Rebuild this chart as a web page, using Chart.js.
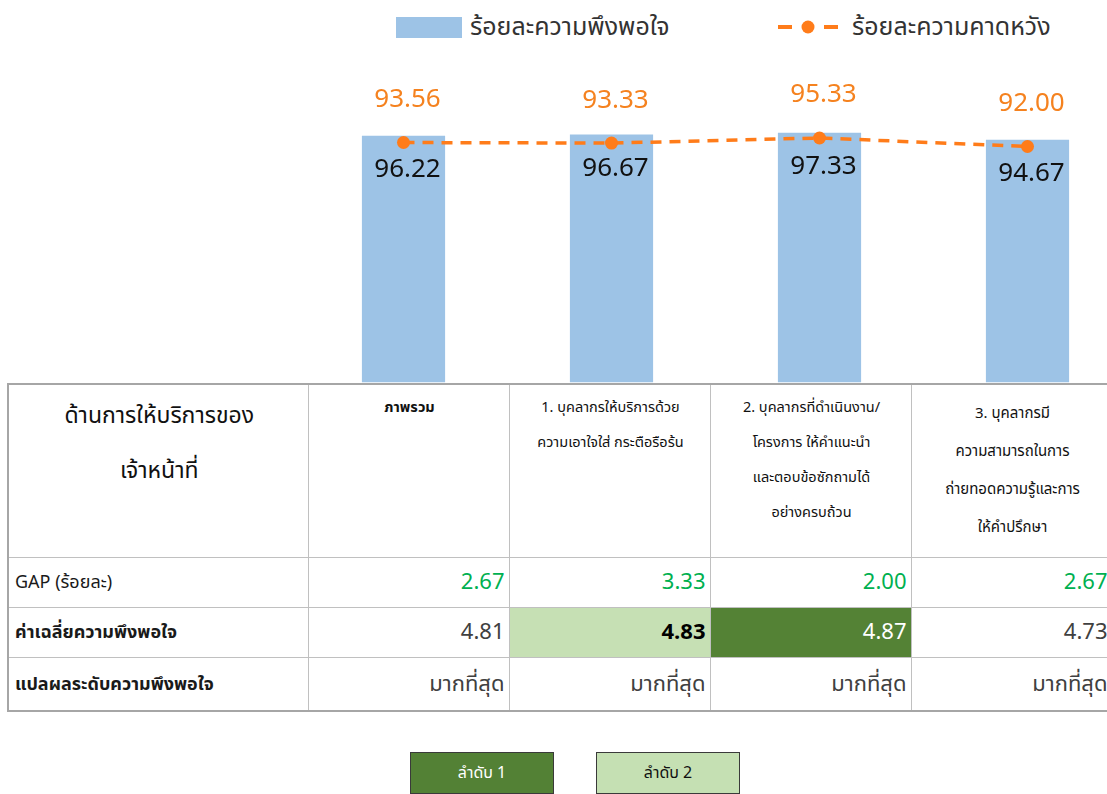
<!DOCTYPE html>
<html><head><meta charset="utf-8">
<script src="https://cdn.jsdelivr.net/npm/chart.js@4.4.1/dist/chart.umd.min.js"></script>
<style>
html,body{margin:0;padding:0;width:1107px;height:794px;overflow:hidden;background:#fff;
 font-family:Tahoma,'Leelawadee UI','Noto Sans Thai','Noto Sans',sans-serif;color:#1a1a1a;}
#chartWrap{position:absolute;left:292.5px;top:0;width:845px;height:389px;z-index:1;}
.lg{position:absolute;top:10px;height:34px;display:flex;align-items:center;font-size:25px;color:#333;white-space:nowrap;}
.lg .box{width:66px;height:21px;background:#9DC3E6;margin-right:8px;}
.lg canvas{margin-right:12px;}
table{position:absolute;left:7px;top:383px;border-collapse:collapse;table-layout:fixed;width:1104px;background:#fff;z-index:2;
 border-top:2px solid #A6A6A6;border-left:2px solid #A6A6A6;border-bottom:2px solid #A6A6A6;}
td{border:1px solid #C0C0C0;padding:0 4px 0 6px;overflow:hidden;white-space:nowrap;}
tr.h td{height:162px;vertical-align:top;text-align:center;font-size:14.5px;line-height:35px;padding-top:6px;color:#111;}
tr.h td.first{font-size:23px;line-height:55px;padding-top:4px;}
tr.r td{height:49px;font-size:22px;text-align:right;color:#404040;}
tr.r.last td{height:52px;}
tr.r td.lab{text-align:left;font-size:18px;color:#1a1a1a;}
tr.gap td{color:#00B050;}
td.b{font-weight:bold;}
.key{position:absolute;top:752px;width:142px;height:40px;border:1px solid #3a3a3a;display:flex;align-items:center;justify-content:center;font-size:16px;}
</style></head>
<body>
<div class="lg" style="left:396px"><div class="box"></div><span>ร้อยละความพึงพอใจ</span></div>
<div class="lg" style="left:776px"><canvas id="lgline" width="64" height="20"></canvas><span>ร้อยละความคาดหวัง</span></div>
<div id="chartWrap"><canvas id="c"></canvas></div>
<table id="tbl"></table>
<div class="key" style="left:410px;background:#538135;color:#fff;">ลำดับ 1</div>
<div class="key" style="left:596px;background:#C5E0B3;color:#111;">ลำดับ 2</div>
<script>
const categories = ['ภาพรวม','1. บุคลากรให้บริการด้วย ความเอาใจใส่ กระตือรือร้น','2. บุคลากรที่ดำเนินงาน/ โครงการ ให้คำแนะนำ และตอบข้อซักถามได้ อย่างครบถ้วน','3. บุคลากรมี ความสามารถในการ ถ่ายทอดความรู้และการ ให้คำปรึกษา'];
const headerLines = [['ภาพรวม'],['1. บุคลากรให้บริการด้วย','ความเอาใจใส่ กระตือรือร้น'],['2. บุคลากรที่ดำเนินงาน/','โครงการ ให้คำแนะนำ','และตอบข้อซักถามได้','อย่างครบถ้วน'],['3. บุคลากรมี','ความสามารถในการ','ถ่ายทอดความรู้และการ','ให้คำปรึกษา']];
const satisfaction = [96.22, 96.67, 97.33, 94.67];
const expectation = [93.56, 93.33, 95.33, 92.00];
const gap = [2.67, 3.33, 2.00, 2.67];
const meanScore = [4.81, 4.83, 4.87, 4.73];
const level = ['มากที่สุด','มากที่สุด','มากที่สุด','มากที่สุด'];
const rank = [null, 2, 1, null];
const seriesNames = ['ร้อยละความพึงพอใจ','ร้อยละความคาดหวัง'];

// table
const tbl = document.getElementById('tbl');
let html = '<colgroup><col style="width:300px">' + categories.map(()=>'<col style="width:201px">').join('') + '</colgroup>';
html += '<tr class="h"><td class="first">ด้านการให้บริการของ<br>เจ้าหน้าที่</td>' +
  headerLines.map((l,i)=>'<td'+(i===0?' class="b"':'')+(i===3?' style="padding-top:10px;line-height:38px;font-size:15px"':'')+'>'+l.join('<br>')+'</td>').join('') + '</tr>';
html += '<tr class="r gap"><td class="lab" style="color:#1a1a1a">GAP (ร้อยละ)</td>' + gap.map(v=>'<td>'+v.toFixed(2)+'</td>').join('') + '</tr>';
html += '<tr class="r"><td class="lab b">ค่าเฉลี่ยความพึงพอใจ</td>' + meanScore.map((v,i)=>{
  let st='';
  if(rank[i]===1) st=' style="background:#548235;color:#fff"';
  else if(rank[i]===2) st=' style="background:#C6E0B4;color:#000;font-weight:bold"';
  return '<td'+st+'>'+v.toFixed(2)+'</td>';}).join('') + '</tr>';
html += '<tr class="r last"><td class="lab b">แปลผลระดับความพึงพอใจ</td>' + level.map(v=>'<td>'+v+'</td>').join('') + '</tr>';
tbl.innerHTML = html;

// legend line icon
const lc = document.getElementById('lgline').getContext('2d');
lc.strokeStyle = '#FF7C1A'; lc.lineWidth = 4;
lc.beginPath(); lc.moveTo(2,10); lc.lineTo(16,10); lc.moveTo(48,10); lc.lineTo(62,10); lc.stroke();
lc.fillStyle = '#FF7C1A'; lc.beginPath(); lc.arc(32,10,6.5,0,Math.PI*2); lc.fill();

const FONT = "Tahoma, 'Leelawadee UI', 'Noto Sans', sans-serif";
const labelPlugin = {
  id:'valueLabels',
  afterDatasetsDraw(chart){
    const ctx = chart.ctx;
    ctx.save();
    ctx.textAlign='center'; ctx.textBaseline='middle';
    ctx.font = '26px ' + FONT;
    const barMeta = chart.getDatasetMeta(0);
    barMeta.data.forEach((el,i)=>{
      ctx.fillStyle='#111';
      ctx.fillText(satisfaction[i].toFixed(2), el.x+4, el.y+34);
    });
    const lineMeta = chart.getDatasetMeta(1);
    lineMeta.data.forEach((el,i)=>{
      ctx.fillStyle='#F5821F';
      ctx.fillText(expectation[i].toFixed(2), el.x+4, el.y-43);
    });
    ctx.restore();
  }
};

new Chart(document.getElementById('c'), {
  data:{
    labels: categories,
    datasets:[
      {type:'bar', label:seriesNames[0], data:satisfaction, backgroundColor:'#9DC3E6', barPercentage:0.4, categoryPercentage:1, order:2},
      {type:'line', label:seriesNames[1], data:expectation, borderColor:'#FF7C1A', backgroundColor:'#FF7C1A', borderWidth:3.5,
       borderDash:[11,8], pointRadius:6.5, pointHoverRadius:6.5, pointBackgroundColor:'#FF7C1A', pointBorderWidth:0, tension:0, order:1}
    ]
  },
  options:{
    responsive:true, maintainAspectRatio:false, animation:false,
    layout:{padding:{top:126,bottom:0,left:0,right:0}},
    plugins:{legend:{display:false}, tooltip:{enabled:false}},
    scales:{
      x:{display:false, offset:true},
      y:{display:false, min:0, max:100}
    }
  },
  plugins:[labelPlugin]
});
</script>
</body></html>
